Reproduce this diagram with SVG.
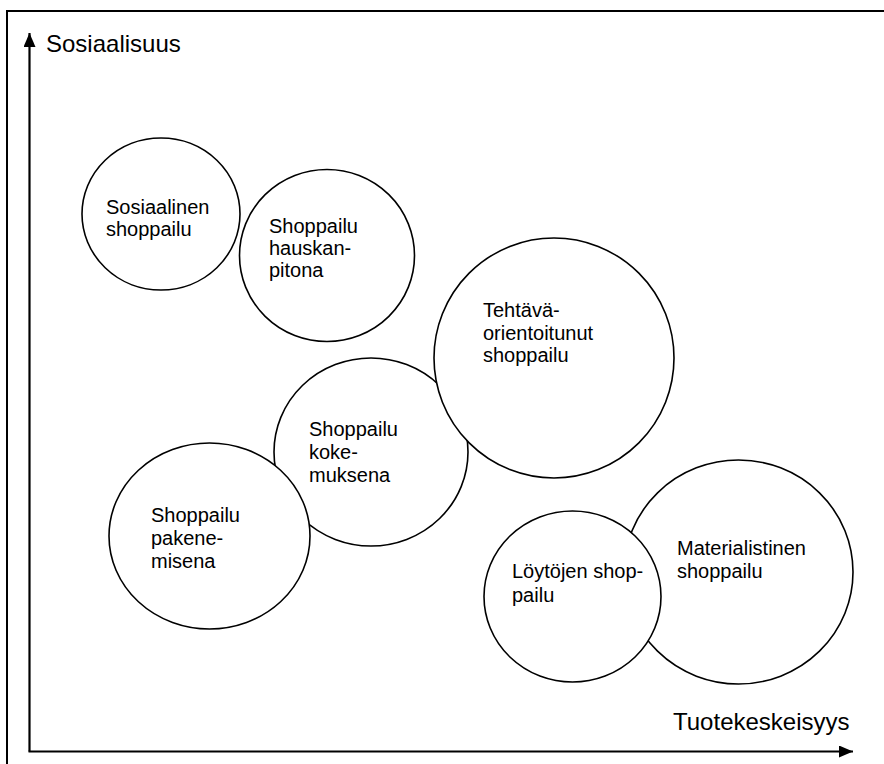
<svg xmlns="http://www.w3.org/2000/svg" width="884" height="764" viewBox="0 0 884 764">
  <style>
    .bubble { fill: #ffffff; stroke: #000000; stroke-width: 1.6; }
    .label { font-family: "Liberation Sans", Arial, sans-serif; font-size: 20px; fill: #000000; }
    .axis-label { font-family: "Liberation Sans", Arial, sans-serif; font-size: 24px; fill: #000000; }
    .axis { stroke: #000000; stroke-width: 2.2; fill: none; }
    .frame { stroke: #000000; stroke-width: 2; fill: none; }
  </style>
  <defs>
    <marker id="arrow" viewBox="0 0 14 12" refX="14" refY="6" markerWidth="14" markerHeight="12" markerUnits="userSpaceOnUse" orient="auto">
      <path d="M0,0 L14,6 L0,12 Z" fill="#000000"/>
    </marker>
  </defs>

  <rect width="884" height="764" fill="#ffffff"/>
  <!-- outer frame (runs off the right and bottom edges) -->
  <rect class="frame" x="7" y="11" width="900" height="800"/>

  <!-- axes -->
  <g id="axes">
    <line class="axis" x1="29.5" y1="751.5" x2="29.5" y2="33" marker-end="url(#arrow)"/>
    <line class="axis" x1="28.5" y1="751.5" x2="853" y2="751.5" marker-end="url(#arrow)"/>
    <text class="axis-label" x="46" y="52">Sosiaalisuus</text>
    <text class="axis-label" x="673" y="730">Tuotekeskeisyys</text>
  </g>

  <g id="sosiaalinen">
    <ellipse class="bubble" cx="161" cy="214" rx="79" ry="76"/>
    <text class="label" x="106" y="214">Sosiaalinen</text>
    <text class="label" x="106" y="236">shoppailu</text>
  </g>

  <g id="hauskanpitona">
    <ellipse class="bubble" cx="327" cy="255.5" rx="87.5" ry="86"/>
    <text class="label" x="269" y="233">Shoppailu</text>
    <text class="label" x="269" y="255">hauskan-</text>
    <text class="label" x="269" y="277">pitona</text>
  </g>

  <g id="kokemuksena">
    <ellipse class="bubble" cx="371" cy="452" rx="97" ry="94"/>
    <text class="label" x="309" y="436">Shoppailu</text>
    <text class="label" x="309" y="459">koke-</text>
    <text class="label" x="309" y="481.5">muksena</text>
  </g>

  <g id="tehtavaorientoitunut">
    <circle class="bubble" cx="554" cy="358" r="120"/>
    <text class="label" x="483" y="317">Tehtävä-</text>
    <text class="label" x="483" y="339.5">orientoitunut</text>
    <text class="label" x="483" y="362">shoppailu</text>
  </g>

  <g id="pakenemisena">
    <ellipse class="bubble" cx="209.5" cy="536" rx="100.5" ry="93"/>
    <text class="label" x="151" y="522">Shoppailu</text>
    <text class="label" x="151" y="545">pakene-</text>
    <text class="label" x="151" y="567.5">misena</text>
  </g>

  <g id="materialistinen">
    <ellipse class="bubble" cx="738.5" cy="572" rx="114.5" ry="112"/>
    <text class="label" x="677" y="555">Materialistinen</text>
    <text class="label" x="677" y="578">shoppailu</text>
  </g>

  <g id="loytojen">
    <ellipse class="bubble" cx="572.5" cy="596.5" rx="88.5" ry="85.5"/>
    <text class="label" x="512" y="578">Löytöjen shop-</text>
    <text class="label" x="512" y="601.5">pailu</text>
  </g>
</svg>
